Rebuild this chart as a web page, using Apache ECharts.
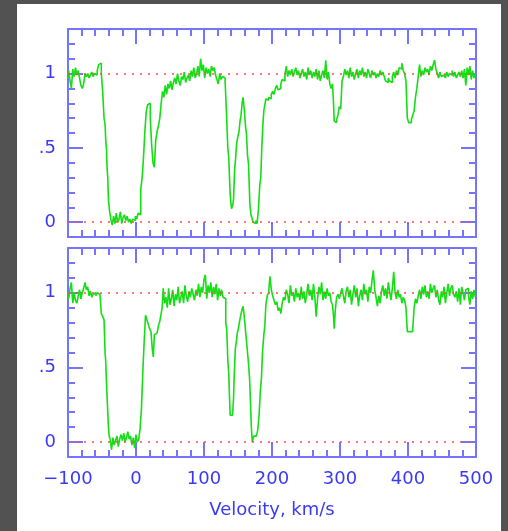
<!DOCTYPE html>
<html>
<head>
<meta charset="utf-8">
<script src="https://cdn.jsdelivr.net/npm/echarts@6/dist/echarts.min.js"></script>
<style>
html,body{margin:0;padding:0;background:#525252;}
#chart{width:508px;height:531px;}
</style>
</head>
<body>
<div id="chart"></div>
<script>
// ---------- DATA ----------
const velTop = [-100,-98,-96,-94,-92,-90,-88,-86,-84,-82,-80,-78,-76,-74,-72,-70,-68,-66,-64,-62,-60,-58,-56,-54,-52,-50,-48,-46,-45,-44,-43,-42,-41,-40,-38,-36,-34,-32,-30,-28,-26,-24,-22,-20,-18,-16,-14,-12,-10,-8,-6,-4,-2,0,2,4,6,8,10,12,14,16,18,20,22,24,26,28,30,32,34,36,38,40,42,44,46,48,50,52,54,56,58,60,62,64,66,68,70,72,74,76,78,80,82,84,86,88,90,92,94,96,98,100,102,104,106,108,110,112,114,116,118,120,122,124,126,128,130,132,134,136,137,138,139,140,141,142,143,144,146,147,149,151,152,154,155,157,158,160,162,163,165,166,167,168,170,171,173,175,177,179,181,183,184,186,187,189,190,192,194,196,198,200,202,204,206,208,210,212,214,216,218,220,222,224,226,228,230,232,234,236,238,240,242,244,246,248,250,252,254,256,258,260,262,264,266,268,270,272,274,276,278,280,282,284,286,288,290,291,292,294,296,298,300,302,304,306,308,310,312,314,316,318,320,322,324,326,328,330,332,334,336,338,340,342,344,346,348,350,352,354,356,358,360,362,364,366,368,370,372,374,376,378,380,382,384,386,388,390,392,394,396,398,400,402,404,406,408,410,412,414,416,418,420,422,424,426,428,430,432,434,436,438,440,442,444,446,448,450,452,454,456,458,460,462,464,466,468,470,472,474,476,478,480,482,484,486,488,490,492,494,496,498,500];
const fluxTop = [0.97,1.02,0.95,0.90,1.03,0.98,1.04,0.99,1.02,0.97,0.92,0.90,0.93,1.00,0.98,1.00,0.97,0.99,1.01,0.98,1.00,0.99,1.02,1.06,1.07,1.00,0.88,0.70,0.66,0.55,0.50,0.36,0.30,0.15,0.08,0.02,-0.02,0.04,-0.01,0.06,0.00,0.02,0.07,-0.01,0.03,0.05,0.01,0.04,0.00,0.02,-0.01,0.02,0.01,0.04,0.02,0.06,0.05,0.22,0.30,0.43,0.61,0.74,0.79,0.80,0.70,0.52,0.40,0.37,0.55,0.61,0.65,0.70,0.80,0.88,0.84,0.92,0.86,0.93,0.90,0.95,0.89,0.94,0.97,0.93,1.00,0.95,0.92,0.98,0.96,1.01,0.94,0.97,0.99,0.95,1.02,0.98,1.04,0.97,1.00,1.05,0.98,1.10,1.02,1.06,0.97,1.04,1.00,1.03,0.98,1.05,1.02,1.04,0.99,0.96,0.93,1.00,0.96,0.98,0.97,0.95,0.74,0.50,0.43,0.30,0.19,0.13,0.09,0.08,0.12,0.16,0.35,0.43,0.53,0.58,0.61,0.68,0.72,0.80,0.84,0.77,0.65,0.59,0.45,0.39,0.25,0.12,0.05,0.03,0.00,-0.01,0.01,-0.01,0.08,0.25,0.30,0.50,0.65,0.75,0.79,0.83,0.82,0.84,0.83,0.86,0.88,0.86,0.90,0.92,0.89,0.90,0.93,0.96,0.95,0.99,1.05,0.98,1.02,0.99,1.03,0.98,1.01,1.04,0.99,1.02,0.97,1.00,1.03,0.98,1.01,0.96,1.04,0.99,1.02,0.97,1.01,0.98,1.03,0.96,1.02,0.95,0.99,1.02,0.97,1.09,0.96,1.01,0.93,0.90,0.93,0.80,0.68,0.67,0.69,0.72,0.78,0.76,0.95,0.98,1.03,0.99,1.02,0.97,1.04,0.98,1.01,0.96,1.00,1.03,0.97,1.02,0.99,1.04,0.98,1.01,0.97,1.03,1.00,0.97,1.02,0.99,1.01,0.97,1.00,0.98,1.02,0.99,1.01,0.98,0.95,0.94,0.97,0.95,0.94,0.98,1.01,0.97,1.02,0.99,1.04,1.03,1.07,1.02,1.00,0.95,0.70,0.67,0.67,0.69,0.72,0.75,0.84,0.90,0.98,1.06,0.98,1.02,0.99,1.04,1.01,1.03,0.99,1.05,1.02,1.06,1.09,1.03,1.00,0.97,1.01,0.98,0.99,1.00,0.97,1.01,0.98,1.00,0.99,1.02,0.98,1.01,0.97,0.99,1.01,0.98,1.02,0.97,1.03,0.92,1.04,0.99,1.05,0.96,1.02,0.97,1.00];

const velBottom = [-100,-98,-96,-94,-92,-90,-88,-86,-84,-82,-80,-78,-76,-74,-72,-70,-68,-66,-64,-62,-60,-58,-56,-54,-52,-50,-48,-46,-45,-44,-43,-42,-41,-40,-39,-37,-35,-33,-31,-29,-27,-25,-23,-21,-19,-17,-15,-13,-11,-9,-7,-5,-3,-1,1,3,5,7,9,11,13,15,17,19,21,23,25,26,28,30,32,34,36,38,39,41,43,45,47,49,51,53,55,57,59,61,63,65,67,69,71,73,75,77,79,81,83,85,87,89,91,93,95,97,99,101,103,105,107,109,111,113,115,117,119,121,123,125,127,129,131,133,134,136,137,138,139,141,143,144,145,147,148,150,151,153,155,157,158,160,162,164,166,168,169,170,172,174,176,178,180,182,184,185,187,189,190,192,194,196,198,200,202,204,206,208,210,212,214,216,218,220,222,224,226,228,230,232,234,236,238,240,242,244,246,248,250,252,254,256,258,260,262,264,266,268,270,272,274,276,278,280,282,284,286,288,290,291,292,294,296,298,300,302,304,306,308,310,312,314,316,318,320,322,324,326,328,330,332,334,336,338,340,342,344,346,348,350,352,354,356,358,360,362,364,366,368,370,372,374,376,378,380,382,384,386,388,390,392,394,396,398,400,402,404,406,408,410,412,414,416,418,420,422,424,426,428,430,432,434,436,438,440,442,444,446,448,450,452,454,456,458,460,462,464,466,468,470,472,474,476,478,480,482,484,486,488,490,492,494,496,498,500];
const fluxBottom = [1.00,0.96,1.03,1.07,0.93,1.00,0.95,0.93,0.98,1.02,0.96,1.00,1.03,1.07,1.02,1.04,0.98,1.01,0.97,0.99,1.00,0.98,1.00,0.99,1.00,0.86,0.84,0.82,0.60,0.54,0.41,0.30,0.20,0.10,0.04,0.02,-0.05,0.03,-0.02,0.01,0.04,-0.03,0.02,0.05,0.01,0.06,0.00,0.03,0.07,0.02,0.04,-0.02,0.03,-0.04,0.05,0.00,0.02,0.09,0.22,0.47,0.67,0.85,0.82,0.79,0.76,0.74,0.62,0.57,0.72,0.73,0.74,0.78,0.81,0.86,0.90,1.03,0.93,0.97,0.90,1.03,0.92,0.96,1.02,0.91,0.99,0.95,1.04,0.93,0.97,1.01,0.93,1.05,0.98,0.94,1.01,0.97,1.03,0.99,0.95,1.02,0.98,1.06,0.97,1.04,1.00,1.09,1.12,0.96,1.05,1.00,1.07,0.97,1.04,0.99,1.06,0.95,1.03,0.98,1.02,0.97,0.96,0.80,0.75,0.55,0.45,0.30,0.18,0.18,0.18,0.30,0.45,0.62,0.67,0.73,0.76,0.80,0.85,0.89,0.91,0.85,0.75,0.65,0.55,0.43,0.25,0.11,0.00,0.04,0.04,0.05,0.08,0.18,0.35,0.43,0.60,0.72,0.78,0.92,0.98,1.00,1.11,1.02,0.98,0.95,0.92,0.94,0.88,0.90,0.86,0.93,0.97,0.95,1.02,0.99,0.93,1.05,0.98,1.00,0.94,1.03,0.97,1.00,0.95,1.04,0.96,1.01,0.93,0.99,1.06,0.98,1.02,0.95,1.06,0.97,0.84,0.96,1.04,0.99,1.07,0.95,1.01,0.96,1.03,0.98,1.00,0.94,0.92,0.84,0.76,0.88,0.97,0.99,0.96,1.00,1.03,0.98,0.93,1.01,1.04,0.97,1.02,0.92,0.99,1.05,0.97,1.03,0.91,0.98,1.02,0.95,1.06,0.99,1.02,0.94,1.04,1.00,1.08,1.15,1.02,0.97,0.91,0.98,0.93,1.01,1.05,0.98,1.03,0.96,1.07,1.01,0.95,1.03,1.14,1.00,0.96,1.02,0.97,0.99,0.93,0.97,0.95,0.90,0.74,0.74,0.75,0.74,0.76,0.90,0.96,0.93,0.98,1.02,0.96,1.04,0.99,1.05,0.97,1.01,0.96,1.06,1.00,1.03,1.05,0.97,1.02,0.95,0.92,1.01,0.97,1.04,0.93,1.00,1.06,0.98,1.03,1.05,0.99,0.97,1.01,0.94,1.03,0.92,1.04,1.00,0.95,1.02,1.03,0.98,0.92,1.01,0.96,1.02,0.97];

const xMajorTicks = [-100, 0, 100, 200, 300, 400, 500];
const xLabelText = ['\u2212100', '0', '100', '200', '300', '400', '500'];
const yMajorTicks = [0, 0.5, 1];
const yLabelText = ['0', '.5', '1'];
const refLevels = [0, 1];
const xTitle = 'Velocity, km/s';

// ---------- STYLE ----------
const AX = '#7474ff';
const LBL = '#3a3af2';
const FONT = 'DejaVu Sans';
const FS = 18;

const chart = echarts.init(document.getElementById('chart'), null, {renderer: 'canvas'});

const grids = [
  {left: 68, top: 29, width: 408, height: 208},
  {left: 68, top: 248, width: 408, height: 209}
];

const xAxes = [];
const yAxes = [];
const series = [];

function xFmt(v) {
  const i = xMajorTicks.indexOf(Math.round(v));
  return (i >= 0 && Math.abs(v - Math.round(v)) < 1e-6) ? xLabelText[i] : '';
}
function yFmt(v) {
  for (let i = 0; i < yMajorTicks.length; i++) {
    if (Math.abs(v - yMajorTicks[i]) < 1e-6) return yLabelText[i];
  }
  return '';
}

const panels = [[velTop, fluxTop], [velBottom, fluxBottom]];

panels.forEach((pd, p) => {
  const isBottom = p === 1;
  xAxes.push({
    gridIndex: p, type: 'value', min: -100, max: 500, interval: 20, position: 'bottom',
    axisLine: {show: true, onZero: false, lineStyle: {color: AX, width: 2}},
    axisTick: {show: true, inside: true, length: 7, lineStyle: {color: AX, width: 2}},
    axisLabel: {show: isBottom, customValues: xMajorTicks, formatter: xFmt, color: LBL, fontSize: FS, fontFamily: FONT, margin: 13},
    splitLine: {show: false},
    name: isBottom ? xTitle : '', nameLocation: 'middle', nameGap: 44,
    nameTextStyle: {color: LBL, fontSize: FS, fontFamily: FONT}
  });
  xAxes.push({
    gridIndex: p, type: 'value', min: -100, max: 500, interval: 20, position: 'top',
    axisLine: {show: true, onZero: false, lineStyle: {color: AX, width: 2}},
    axisTick: {show: true, inside: true, length: 7, lineStyle: {color: AX, width: 2}},
    axisLabel: {show: false}, splitLine: {show: false}
  });
  xAxes.push({
    gridIndex: p, type: 'value', min: -100, max: 500, interval: 100, position: 'bottom',
    axisLine: {show: false, onZero: false},
    axisTick: {show: true, inside: true, length: 15, lineStyle: {color: AX, width: 2}},
    axisLabel: {show: false}, splitLine: {show: false}
  });
  xAxes.push({
    gridIndex: p, type: 'value', min: -100, max: 500, interval: 100, position: 'top',
    axisLine: {show: false, onZero: false},
    axisTick: {show: true, inside: true, length: 15, lineStyle: {color: AX, width: 2}},
    axisLabel: {show: false}, splitLine: {show: false}
  });

  yAxes.push({
    gridIndex: p, type: 'value', min: -0.1, max: 1.3, interval: 0.1, position: 'left',
    axisLine: {show: true, onZero: false, lineStyle: {color: AX, width: 2}},
    axisTick: {show: true, inside: true, length: 7, lineStyle: {color: AX, width: 2}},
    axisLabel: {show: true, customValues: yMajorTicks, formatter: yFmt, color: LBL, fontSize: FS, fontFamily: FONT, margin: 12},
    splitLine: {show: false}
  });
  yAxes.push({
    gridIndex: p, type: 'value', min: -0.1, max: 1.3, interval: 0.1, position: 'right',
    axisLine: {show: true, onZero: false, lineStyle: {color: AX, width: 2}},
    axisTick: {show: true, inside: true, length: 7, lineStyle: {color: AX, width: 2}},
    axisLabel: {show: false}, splitLine: {show: false}
  });
  yAxes.push({
    gridIndex: p, type: 'value', min: -0.1, max: 1.3, position: 'left',
    axisLine: {show: false, onZero: false},
    axisTick: {show: true, inside: true, length: 15, customValues: yMajorTicks, lineStyle: {color: AX, width: 2}},
    axisLabel: {show: false}, splitLine: {show: false}
  });
  yAxes.push({
    gridIndex: p, type: 'value', min: -0.1, max: 1.3, position: 'right',
    axisLine: {show: false, onZero: false},
    axisTick: {show: true, inside: true, length: 15, customValues: yMajorTicks, lineStyle: {color: AX, width: 2}},
    axisLabel: {show: false}, splitLine: {show: false}
  });

  series.push({
    type: 'line',
    xAxisIndex: p * 4, yAxisIndex: p * 4,
    data: pd[0].map((v, i) => [v, pd[1][i]]),
    step: 'middle',
    showSymbol: false, symbol: 'none',
    lineStyle: {color: '#14de14', width: 1.6},
    silent: true,
    clip: true,
    z: 3,
    markLine: {
      silent: true, symbol: 'none', label: {show: false},
      lineStyle: {color: '#ff4a4a', type: [2, 6], width: 1.5},
      data: refLevels.map(r => ({yAxis: r})),
      animation: false
    }
  });
});

chart.setOption({
  animation: false,
  backgroundColor: '#525252',
  graphic: [{
    type: 'rect', z: -10, silent: true,
    shape: {x: 17, y: 4, width: 484, height: 527},
    style: {fill: '#ffffff'}
  }],
  grid: grids,
  xAxis: xAxes,
  yAxis: yAxes,
  series: series
});
</script>
</body>
</html>
